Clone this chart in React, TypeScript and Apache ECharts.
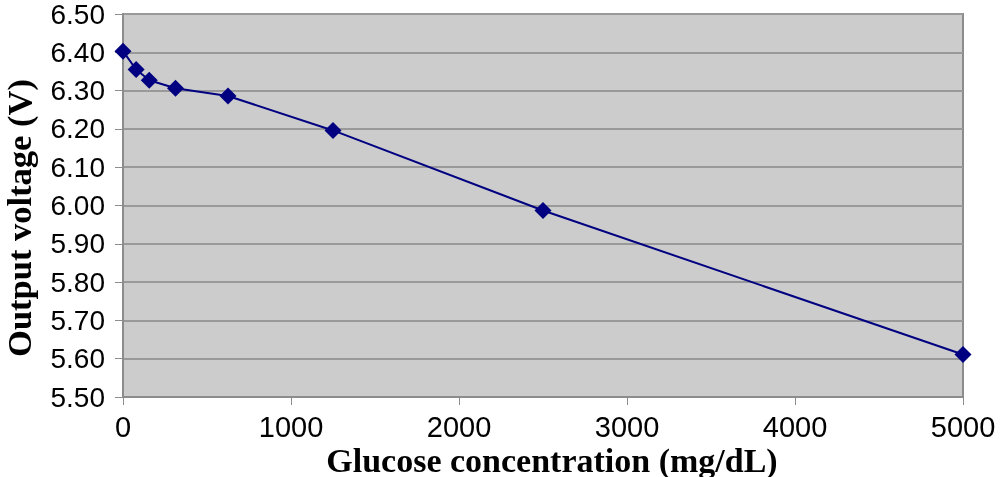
import React, { useEffect, useRef } from "react";
import * as echarts from "echarts";

const concentrations = [0, 78.125, 156.25, 312.5, 625, 1250, 2500, 5000];
const voltages = [6.403, 6.355, 6.327, 6.306, 6.286, 6.196, 5.987, 5.611];
const xAxisTitle = "Glucose concentration (mg/dL)";
const yAxisTitle = "Output voltage (V)";

const titleStyle = {
  fontFamily: "Liberation Serif",
  fontWeight: "bold",
  fill: "#000",
  align: "center",
  verticalAlign: "middle",
};

export default function App() {
  const ref = useRef<HTMLDivElement>(null);
  useEffect(() => {
    if (!ref.current) return;
    const chart = echarts.init(ref.current, null, { renderer: "svg" });
    chart.setOption({
      animation: false,
      grid: {
        left: 123,
        right: 37,
        top: 14,
        bottom: 80,
        outerBoundsMode: "none",
        containLabel: false,
        show: true,
        backgroundColor: "#cccccc",
        borderColor: "#8c8c8c",
        borderWidth: 2,
      },
      graphic: [
        {
          type: "text",
          x: 552,
          y: 460,
          style: { ...titleStyle, fontSize: 34, text: xAxisTitle },
        },
        {
          type: "text",
          x: 18.5,
          y: 218,
          rotation: Math.PI / 2,
          style: { ...titleStyle, fontSize: 34.5, text: yAxisTitle },
        },
      ],
      xAxis: {
        type: "value",
        min: 0,
        max: 5000,
        interval: 1000,
        axisLine: { show: true, lineStyle: { color: "#8c8c8c", width: 2 } },
        axisTick: { show: true, length: 8, lineStyle: { color: "#8c8c8c" } },
        axisLabel: {
          fontFamily: "Liberation Sans",
          fontSize: 29,
          color: "#000",
          margin: 15,
          formatter: (v: number) => String(v),
        },
        splitLine: { show: false },
      },
      yAxis: {
        type: "value",
        min: 5.5,
        max: 6.5,
        interval: 0.1,
        axisLine: { show: true, lineStyle: { color: "#8c8c8c", width: 2 } },
        axisTick: { show: true, length: 8, lineStyle: { color: "#8c8c8c" } },
        axisLabel: {
          fontFamily: "Liberation Sans",
          fontSize: 28,
          color: "#000",
          margin: 18,
          formatter: (v: number) => v.toFixed(2),
        },
        splitLine: { show: true, lineStyle: { color: "#999999", width: 2 } },
      },
      series: [
        {
          type: "line",
          data: concentrations.map((c, i) => [c, voltages[i]]),
          symbol: "diamond",
          symbolSize: 17,
          lineStyle: { color: "#000080", width: 2 },
          itemStyle: { color: "#000080" },
        },
      ],
    });
    return () => chart.dispose();
  }, []);
  return (
    <div
      ref={ref}
      style={{ position: "fixed", left: 0, top: 0, width: 1000, height: 477 }}
    />
  );
}
